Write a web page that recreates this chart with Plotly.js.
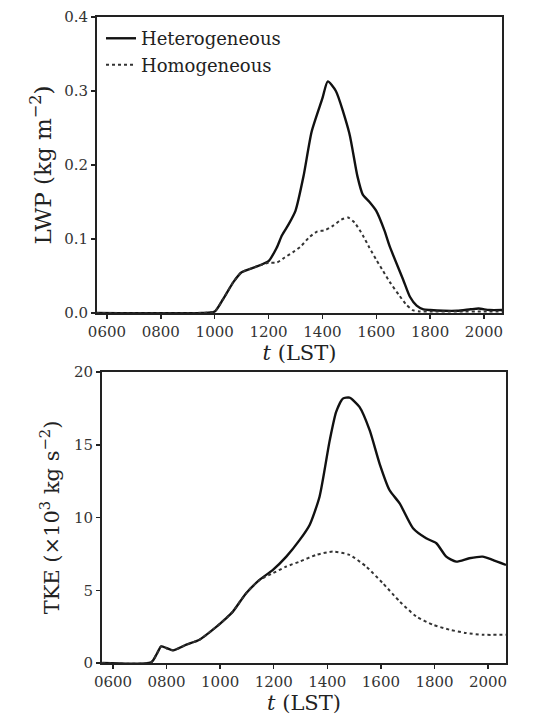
<!DOCTYPE html>
<html><head><meta charset="utf-8">
<script src="https://cdn.plot.ly/plotly-3.0.1.min.js"></script>
<style>html,body{margin:0;padding:0;background:#fff}#chart{width:546px;height:717px}</style>
</head><body><div id="chart"></div>
<script>
// Time in hours (LST)
const tickVals = [6, 8, 10, 12, 14, 16, 18, 20];
const tickText = ["0600", "0800", "1000", "1200", "1400", "1600", "1800", "2000"];

// LWP (kg m^-2)
const lwpHetT = [5.6, 9.5, 10.0, 10.3, 10.7, 11.0, 11.5, 12.0, 12.3, 12.5, 12.75, 13.0, 13.3, 13.6, 14.0, 14.2, 14.5, 15.0, 15.3, 15.5, 15.75, 16.0, 16.3, 16.5, 17.0, 17.25, 17.5, 17.75, 18.0, 18.5, 19.0, 19.5, 19.8, 20.2, 20.7];
const lwpHet  = [0, 0, 0.002, 0.018, 0.042, 0.055, 0.062, 0.070, 0.088, 0.105, 0.120, 0.138, 0.185, 0.245, 0.290, 0.313, 0.300, 0.243, 0.185, 0.160, 0.150, 0.138, 0.112, 0.090, 0.045, 0.022, 0.010, 0.005, 0.004, 0.003, 0.003, 0.005, 0.006, 0.004, 0.004];
const lwpHomT = [5.6, 9.5, 10.0, 10.3, 10.7, 11.0, 11.5, 12.0, 12.3, 12.6, 12.9, 13.2, 13.5, 13.8, 14.1, 14.4, 14.7, 14.95, 15.2, 15.5, 15.75, 16.0, 16.25, 16.5, 16.85, 17.1, 17.35, 17.6, 18.0, 19.0, 20.0, 20.7];
const lwpHom  = [0, 0, 0.002, 0.018, 0.042, 0.055, 0.062, 0.068, 0.068, 0.075, 0.082, 0.090, 0.102, 0.110, 0.112, 0.118, 0.126, 0.129, 0.122, 0.105, 0.088, 0.072, 0.057, 0.042, 0.024, 0.012, 0.004, 0.002, 0.002, 0.002, 0.002, 0.002];

// TKE (x10^3 kg s^-2)
const tkeHetT = [5.6, 7.43, 7.62, 7.8, 7.99, 8.24, 8.74, 9.23, 9.73, 10.23, 10.48, 10.97, 11.47, 11.97, 12.47, 12.97, 13.34, 13.71, 14.09, 14.33, 14.58, 14.83, 15.2, 15.58, 15.95, 16.32, 16.7, 17.2, 17.69, 18.07, 18.44, 18.81, 19.3, 19.8, 20.17, 20.67];
const tkeHet  = [0, 0.05, 0.57, 1.14, 1.03, 0.87, 1.26, 1.6, 2.29, 3.09, 3.54, 4.8, 5.71, 6.4, 7.31, 8.46, 9.49, 11.43, 15.3, 17.26, 18.17, 18.24, 17.6, 16.0, 13.71, 11.89, 10.97, 9.26, 8.57, 8.23, 7.31, 6.97, 7.2, 7.31, 7.09, 6.74];
const tkeHomT = [5.6, 7.43, 7.62, 7.8, 7.99, 8.24, 8.74, 9.23, 9.73, 10.23, 10.48, 10.97, 11.47, 11.97, 12.47, 12.97, 13.59, 14.21, 14.83, 15.45, 16.07, 16.7, 17.32, 17.94, 18.56, 19.18, 19.8, 20.67];
const tkeHom  = [0, 0.05, 0.57, 1.14, 1.03, 0.87, 1.26, 1.6, 2.29, 3.09, 3.54, 4.8, 5.71, 6.17, 6.63, 6.97, 7.43, 7.66, 7.43, 6.63, 5.49, 4.23, 3.2, 2.63, 2.29, 2.06, 1.94, 1.94];

const FONT = "DejaVu Serif";
const solid = {color: "#111", width: 2.4, dash: "solid", shape: "spline", smoothing: 0.6};
const dotted = {color: "#333", width: 2, dash: "dot", shape: "spline", smoothing: 0.6};

const traces = [
  {x: lwpHetT, y: lwpHet, xaxis: "x", yaxis: "y", mode: "lines", name: "Heterogeneous", line: solid, showlegend: true},
  {x: lwpHomT, y: lwpHom, xaxis: "x", yaxis: "y", mode: "lines", name: "Homogeneous", line: dotted, showlegend: true},
  {x: tkeHetT, y: tkeHet, xaxis: "x2", yaxis: "y2", mode: "lines", name: "Heterogeneous", line: solid, showlegend: false},
  {x: tkeHomT, y: tkeHom, xaxis: "x2", yaxis: "y2", mode: "lines", name: "Homogeneous", line: dotted, showlegend: false}
];

const axisCommon = {
  showgrid: false, zeroline: false, showline: true, mirror: true,
  linecolor: "#222", linewidth: 2, ticks: "outside", ticklen: 4, tickwidth: 1.5, tickcolor: "#222",
  tickfont: {family: FONT, size: 15, color: "#333"}, automargin: false
};

const layout = {
  width: 546, height: 717,
  margin: {l: 0, r: 0, t: 0, b: 0},
  paper_bgcolor: "#fff", plot_bgcolor: "#fff",
  font: {family: FONT, color: "#222"},
  showlegend: true,
  legend: {x: 0.185, y: 0.972, xanchor: "left", yanchor: "top", bgcolor: "rgba(0,0,0,0)",
           font: {family: FONT, size: 18, color: "#222"}, tracegroupgap: 0, itemwidth: 30},
  xaxis: Object.assign({}, axisCommon, {domain: [97/546, 502/546], anchor: "y", range: [5.63, 20.67],
    tickvals: tickVals, ticktext: tickText,
    title: {text: "<i>t</i> (LST)", font: {family: FONT, size: 21, color: "#222"}, standoff: 0}}),
  yaxis: Object.assign({}, axisCommon, {domain: [1 - 313/717, 1 - 17/717], anchor: "x", range: [0, 0.4],
    tickvals: [0, 0.1, 0.2, 0.3, 0.4], tickformat: ".1f",
    title: {text: "LWP (kg m<sup>−2</sup>)", font: {family: FONT, size: 23, color: "#222"}, standoff: 6}}),
  xaxis2: Object.assign({}, axisCommon, {domain: [102/546, 506/546], anchor: "y2", range: [5.59, 20.67],
    tickvals: tickVals, ticktext: tickText,
    title: {text: "<i>t</i> (LST)", font: {family: FONT, size: 21, color: "#222"}, standoff: 2}}),
  yaxis2: Object.assign({}, axisCommon, {domain: [1 - 663/717, 1 - 372/717], anchor: "x2", range: [0, 20],
    tickvals: [0, 5, 10, 15, 20],
    title: {text: "TKE (×10<sup>3</sup> kg s<sup>−2</sup>)", font: {family: FONT, size: 21, color: "#222"}, standoff: 9}})
};

Plotly.newPlot("chart", traces, layout, {displayModeBar: false, staticPlot: true});
</script>
</body></html>
